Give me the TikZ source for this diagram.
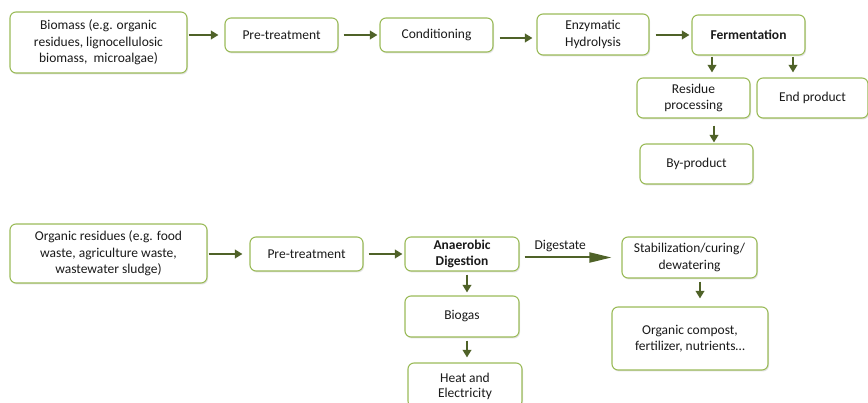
\documentclass[tikz,border=0pt]{standalone}
\usepackage{fontspec}
\setmainfont{Carlito}
\usetikzlibrary{arrows.meta,shadows}
\definecolor{boxgreen}{HTML}{9BBB59}
\definecolor{arrowgreen}{HTML}{4F6228}
\definecolor{txt}{HTML}{1A1A1A}
\begin{document}
\begin{tikzpicture}[x=1pt,y=-1pt,
  box/.style={draw=boxgreen, line width=1.1pt, rounded corners=6pt, fill=white,
    align=center, text=txt, inner sep=0pt,
    font=\fontsize{13.5}{16.3}\selectfont,
    drop shadow={opacity=0.22, shadow xshift=1pt, shadow yshift=-1.5pt}},
  arr/.style={draw=arrowgreen, line width=2.1pt,
    -{Triangle[length=7.5pt,width=8.5pt]}},
  bigarr/.style={draw=arrowgreen, line width=2pt,
    -{Triangle[length=22pt,width=10pt]}}]
\useasboundingbox (0,0) rectangle (868,403);
\clip (0,0) rectangle (868,403);
% top row
\node[box, minimum width=177pt, minimum height=61pt] (bio) at (98.5,42.5)
  {Biomass (e.g. organic\\residues, lignocellulosic\\biomass,\ \ microalgae)};
\node[box, minimum width=113pt, minimum height=34pt] (pre1) at (281.5,35) {Pre-treatment};
\node[box, minimum width=113pt, minimum height=34pt] (cond) at (436.5,35) {Conditioning};
\node[box, minimum width=112pt, minimum height=41pt] (enz) at (593,34.5) {Enzymatic\\Hydrolysis};
\node[box, minimum width=113pt, minimum height=40pt] (ferm) at (748.5,35) {\textbf{Fermentation}};
\node[box, minimum width=113pt, minimum height=40pt] (res) at (693.5,98) {Residue\\processing};
\node[box, minimum width=111pt, minimum height=40pt] (endp) at (812.5,98) {End product};
\node[box, minimum width=113pt, minimum height=40pt] (by) at (696.5,164) {By-product};
% bottom row
\node[box, minimum width=197pt, minimum height=59pt] (org) at (108.5,253.5)
  {Organic residues (e.g. food\\waste, agriculture waste,\\wastewater sludge)};
\node[box, minimum width=113pt, minimum height=34pt] (pre2) at (306.5,254) {Pre-treatment};
\node[box, minimum width=114pt, minimum height=34pt] (ad) at (462,254) {\textbf{Anaerobic}\\\textbf{Digestion}};
\node[box, minimum width=135pt, minimum height=41pt] (stab) at (689.5,257.5) {Stabilization/curing/\\dewatering};
\node[box, minimum width=156pt, minimum height=63pt] (comp) at (690,338.5) {Organic compost,\\fertilizer, nutrients…};
\node[box, minimum width=114pt, minimum height=41pt] (biogas) at (462,316.5) {Biogas};
\node[box, minimum width=114pt, minimum height=44pt, text depth=0pt] (heat) at (465,385) {\raisebox{8pt}{\begin{tabular}{@{}c@{}}Heat and\\[-1.5pt]Electricity\end{tabular}}};
% top arrows
\draw[arr, shorten <=1pt, shorten >=6pt] (bio.east |- pre1.west) -- (pre1.west);
\draw[arr, shorten <=5pt, shorten >=2pt] (pre1.east) -- (cond.west);
\draw[arr, shorten <=6pt, shorten >=4pt] ([yshift=-3pt]cond.east) -- ([yshift=-3pt]cond.east -| enz.west);
\draw[arr, shorten <=6pt, shorten >=2pt] (enz.east |- ferm.west) -- (ferm.west);
\draw[arr, shorten <=1pt, shorten >=5pt] ([xshift=-36.5pt]ferm.south) -- ([xshift=-36.5pt]ferm.south |- res.north);
\draw[arr, shorten <=1pt, shorten >=5pt] ([xshift=44.5pt]ferm.south) -- ([xshift=44.5pt]ferm.south |- endp.north);
\draw[arr, shorten <=7pt, shorten >=1pt] ([xshift=20.5pt]res.south) -- ([xshift=20.5pt]res.south |- by.north);
% bottom arrows
\draw[arr, shorten <=1pt, shorten >=7pt] (org.east |- pre2.west) -- (pre2.west);
\draw[arr, shorten <=5pt, shorten >=2pt] (pre2.east) -- (ad.west);
\draw[bigarr, shorten <=5pt, shorten >=10pt] (ad.east |- stab.west) -- node[above=1pt, pos=0.4, text=txt, font=\fontsize{13.5}{16.3}\selectfont] (dlab) {Digestate} (stab.west);
\draw[arr, shorten <=3pt, shorten >=8pt] ([xshift=10.5pt]stab.south) -- ([xshift=10.5pt]stab.south |- comp.north);
\draw[arr, shorten <=3pt, shorten >=3pt] ([xshift=5pt]ad.south) -- ([xshift=5pt]ad.south |- biogas.north);
\draw[arr, shorten <=3pt, shorten >=5pt] ([xshift=5pt]biogas.south) -- ([xshift=5pt]biogas.south |- heat.north);
\end{tikzpicture}
\end{document}
